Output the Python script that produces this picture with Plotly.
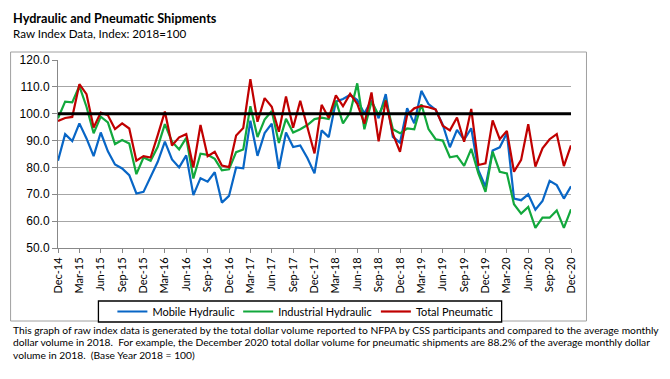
import plotly.graph_objects as go
import pandas as pd

months = [d.strftime("%b-%y") for d in pd.date_range("2014-12-01", "2020-12-01", freq="MS")]

mobile_hydraulic = [
    82.5, 92.4, 89.8, 96.4, 90.8, 84.2, 93.0, 86.0, 81.1, 79.6, 77.1, 70.3,
    70.9, 76.5, 82.1, 89.6, 83.0, 80.0, 84.5, 69.7, 76.0, 74.7, 78.2, 66.9,
    69.4, 80.0, 79.7, 97.4, 84.3, 92.8, 96.3, 79.5, 93.0, 87.6, 88.2, 83.5,
    77.8, 93.8, 91.3, 104.5, 105.5, 107.0, 105.1, 100.1, 105.1, 98.3, 107.3, 91.4,
    89.2, 102.0, 96.4, 108.5, 103.6, 101.5, 95.9, 87.5, 94.0, 90.3, 94.6, 79.0,
    72.8, 86.3, 87.5, 92.8, 68.4, 67.8, 70.0, 64.3, 67.5, 75.0, 73.4, 68.4,
    73.0,
]
industrial_hydraulic = [
    98.3, 104.5, 104.2, 110.3, 102.6, 92.7, 98.9, 96.8, 88.7, 90.2, 88.9, 77.5,
    83.7, 82.5, 87.7, 96.1, 89.6, 86.7, 91.0, 75.9, 85.1, 84.7, 83.2, 78.9,
    79.3, 85.7, 86.7, 102.8, 91.3, 97.8, 101.0, 89.1, 98.1, 93.0, 94.2, 95.8,
    98.0, 98.5, 98.0, 104.8, 96.4, 100.4, 111.3, 94.2, 104.5, 99.5, 105.1, 94.2,
    92.7, 94.5, 94.2, 103.5, 94.3, 90.5, 90.0, 83.8, 84.3, 80.6, 86.9, 77.8,
    70.9, 85.9, 78.4, 77.8, 66.3, 62.8, 65.3, 57.5, 61.3, 61.3, 64.0, 57.5,
    64.4,
]
total_pneumatic = [
    97.3, 98.4, 98.8, 111.0, 107.3, 94.9, 100.4, 99.4, 94.3, 96.4, 94.5, 82.5,
    84.2, 83.7, 92.0, 100.8, 88.2, 91.2, 92.4, 80.0, 95.8, 84.2, 85.8, 80.7,
    80.1, 91.9, 94.7, 112.9, 97.0, 105.8, 102.6, 93.3, 106.4, 94.8, 104.8, 95.0,
    85.2, 103.3, 98.4, 106.8, 102.8, 107.4, 103.7, 96.3, 107.9, 89.7, 104.9, 92.5,
    85.8, 99.5, 102.0, 102.9, 102.4, 101.6, 95.5, 93.8, 98.6, 89.6, 101.8, 80.9,
    81.5, 97.5, 90.5, 93.6, 78.4, 82.8, 96.1, 80.3, 87.1, 90.5, 92.4, 80.5,
    88.2,
]
base_index = [100.0] * len(months)

series_names = ["Mobile Hydraulic", "Industrial Hydraulic", "Total Pneumatic"]
series_colors = ["#0866C6", "#12A83C", "#C00000"]

title_text = "Hydraulic and Pneumatic Shipments"
subtitle_text = "Raw Index Data, Index: 2018=100"
footnote_lines = [
    "This graph of raw index data is generated by the total dollar volume reported to NFPA by CSS participants and compared to the average monthly",
    "dollar volume in 2018.\u00a0 For example, the December 2020 total dollar volume for pneumatic shipments are 88.2% of the average monthly dollar",
    "volume in 2018.\u00a0 (Base Year 2018 = 100)",
]

# the page body has an 8px margin; work in page coordinates and shift
OFF = 8
W, H = 670 - OFF, 379 - OFF
L, R, T, B = 57.5 - OFF, 571.5 - OFF, 60 - OFF, 248 - OFF
pw, ph = R - L, B - T

def px(x):
    return (x - OFF - L) / pw

def py(y):
    return (B - (y - OFF)) / ph

FONT = "Lato"
legend_ids = ["legend", "legend2", "legend3"]
legend_text_x = [152, 278, 416]

fig = go.Figure()
for name, vals, col, lid in zip(series_names, [mobile_hydraulic, industrial_hydraulic, total_pneumatic],
                                series_colors, legend_ids):
    fig.add_trace(go.Scatter(x=months, y=vals, name=name, mode="lines", legend=lid,
                             line=dict(color=col, width=2.2)))
fig.add_trace(go.Scatter(x=months, y=base_index, mode="lines", showlegend=False,
                         line=dict(color="black", width=3), hoverinfo="skip"))

legend_common = dict(orientation="h", xanchor="left", yanchor="middle", y=py(311.5),
                     borderwidth=0, bgcolor="rgba(0,0,0,0)",
                     font=dict(family=FONT, size=11, color="black"), itemwidth=30)

fig.update_layout(
    width=W, height=H,
    margin=dict(l=L, r=W - R, t=T, b=H - B, pad=0, autoexpand=False),
    paper_bgcolor="white", plot_bgcolor="white",
    font=dict(family=FONT, color="black"),
    showlegend=True,
    legend=dict(x=px(legend_text_x[0] - 40), **legend_common),
    legend2=dict(x=px(legend_text_x[1] - 40), **legend_common),
    legend3=dict(x=px(legend_text_x[2] - 40), **legend_common),
)
fig.update_xaxes(
    type="category", range=[0, len(months) - 1],
    tickmode="array", tickvals=months[::3], ticktext=months[::3],
    tickangle=-90, tickfont=dict(family=FONT, size=11, color="black"),
    ticks="outside", ticklen=4, tickcolor="#888888",
    showline=True, linecolor="#888888", linewidth=1,
    showgrid=False, zeroline=False,
)
fig.update_yaxes(
    range=[50, 120], dtick=10, tick0=50, tickformat=".1f",
    tickfont=dict(family="Liberation Sans", size=12, color="black"),
    ticks="outside", ticklen=5, tickcolor="#888888",
    showline=True, linecolor="#888888", linewidth=1,
    showgrid=True, gridcolor="#A6A6A6", gridwidth=1, zeroline=False,
)

# outer chart frame
fig.add_shape(type="rect", xref="paper", yref="paper",
              x0=px(10), x1=px(587), y0=py(321), y1=py(52),
              line=dict(color="#A0A0A0", width=1), layer="below")
# legend box
fig.add_shape(type="rect", xref="paper", yref="paper",
              x0=px(98), x1=px(502), y0=py(322), y1=py(301),
              line=dict(color="black", width=1.3), fillcolor="white", layer="below")

fig.add_annotation(text="<b>" + title_text + "</b>", xref="paper", yref="paper",
                   x=px(10), y=py(18), xanchor="left", yanchor="middle", showarrow=False,
                   font=dict(family=FONT, size=12.7, color="black"))
fig.add_annotation(text=subtitle_text, xref="paper", yref="paper",
                   x=px(10), y=py(34), xanchor="left", yanchor="middle", showarrow=False,
                   font=dict(family=FONT, size=11.6, color="black"))
for k, line in enumerate(footnote_lines):
    fig.add_annotation(text=line, xref="paper", yref="paper",
                       x=px(10), y=py(329.5 + 12.6 * k), xanchor="left", yanchor="middle",
                       showarrow=False, font=dict(family=FONT, size=10.25, color="black"))

fig.write_html("out.html")
